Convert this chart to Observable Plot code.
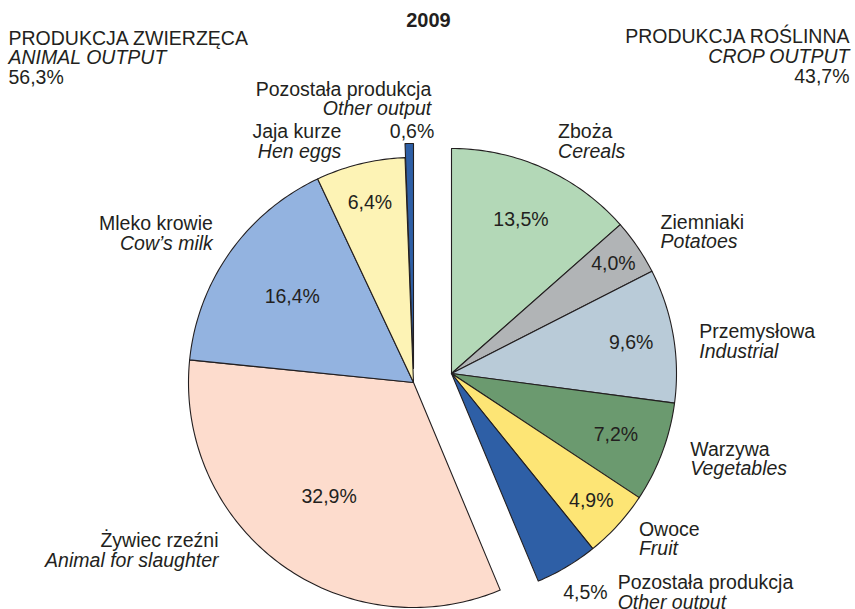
<!DOCTYPE html>
<html><head><meta charset="utf-8">
<script src="https://cdn.jsdelivr.net/npm/d3@7"></script>
<script src="https://cdn.jsdelivr.net/npm/@observablehq/plot@0.6"></script>
<style>body{margin:0;background:#fff}</style>
</head><body><div id="chart"></div>
<script>
// ---- data ----
const year = "2009";
const groups  = ["crop","crop","crop","crop","crop","crop","animal","animal","animal","animal"];
const namesPl = ["Zboża","Ziemniaki","Przemysłowa","Warzywa","Owoce","Pozostała produkcja","Żywiec rzeźni","Mleko krowie","Jaja kurze","Pozostała produkcja"];
const namesEn = ["Cereals","Potatoes","Industrial","Vegetables","Fruit","Other output","Animal for slaughter","Cow’s milk","Hen eggs","Other output"];
const shares  = [13.5, 4.0, 9.6, 7.2, 4.9, 4.5, 32.9, 16.4, 6.4, 0.6];
const groupTitlePl = {animal: "PRODUKCJA ZWIERZĘCA", crop: "PRODUKCJA ROŚLINNA"};
const groupTitleEn = {animal: "ANIMAL OUTPUT", crop: "CROP OUTPUT"};

// ---- layout / style ----
const colors = ["#b3d8b7","#b1b4b6","#b9cbd8","#6b9a6f","#fde575","#2e5fa6","#fddccd","#93b3e0","#fdf3b5","#2e5fa6"];
const R = 225;
const centers = {crop: [451, 373], animal: [413, 382]};
const extraY = [0,0,0,0,0,0,0,0,0,-14];
const pctR = [0.75,0.87,0.81,0.78,0.84,null,0.63,0.66,0.82,null];
// outside label offsets from arc midpoint: [dx, dyLine1, dyLine2, anchor]
const labOff = [
  [14,-30,-10,"start"],[23,-18,1,"start"],[26,2,22,"start"],[28,4,23,"start"],
  [21,11,30,"start"],[51,22,42,"start"],
  [-61,-16,4,"end"],[-17,-23,-3,"end"],[-19,-26,-6,"end"],[22,-48,-29,"end"]
];
const outPctOff = {5: [41, 32, "end"], 9: [25, -6, "end"]};
const ink = "#231f20";
const font = "'Liberation Sans', Arial, sans-serif";
const fs = 19.5;

const fmt = v => d3.format(".1f")(v).replace(".", ",") + "%";

let cum = 0;
const slices = shares.map((v, i) => {
  const a0 = cum / 100 * 2 * Math.PI; cum += v;
  const a1 = cum / 100 * 2 * Math.PI;
  const [cx, cy0] = centers[groups[i]];
  return {i, v, a0, a1, mid: (a0 + a1) / 2, cx, cy: cy0 + extraY[i]};
});
const pt = (s, a, r) => [s.cx + r * Math.sin(a), s.cy - r * Math.cos(a)];

const poly = [];
for (const s of slices) {
  poly.push({id: s.i, x: s.cx, y: s.cy});
  const n = Math.max(2, Math.ceil((s.a1 - s.a0) / (Math.PI / 180)));
  for (let k = 0; k <= n; k++) {
    const [x, y] = pt(s, s.a0 + (s.a1 - s.a0) * k / n, R);
    poly.push({id: s.i, x, y});
  }
  poly.push({id: s.i, x: s.cx, y: s.cy});
}

const pctIn = slices.filter(s => pctR[s.i] != null).map(s => {
  const [x, y] = pt(s, s.mid, R * pctR[s.i]);
  return {x, y, t: fmt(s.v)};
});
const pctOut = slices.filter(s => outPctOff[s.i]).map(s => {
  const [x, y] = pt(s, s.mid, R);
  const o = outPctOff[s.i];
  return {x: x + o[0], y: y + o[1], t: fmt(s.v), a: o[2]};
});
const lab1 = [], lab2 = [];
for (const s of slices) {
  const [x, y] = pt(s, s.mid, R);
  const o = labOff[s.i];
  lab1.push({x: x + o[0], y: y + o[1], t: namesPl[s.i], a: o[3]});
  lab2.push({x: x + o[0], y: y + o[2], t: namesEn[s.i], a: o[3]});
}
const sumOf = g => d3.sum(shares.filter((v, i) => groups[i] === g));
const heads = [
  {x: 8, y: 44, t: groupTitlePl.animal, a: "start", it: false},
  {x: 8, y: 63, t: groupTitleEn.animal, a: "start", it: true},
  {x: 8, y: 83, t: fmt(sumOf("animal")), a: "start", it: false},
  {x: 849, y: 42, t: groupTitlePl.crop, a: "end", it: false},
  {x: 849, y: 62, t: groupTitleEn.crop, a: "end", it: true},
  {x: 849, y: 82, t: fmt(sumOf("crop")), a: "end", it: false}
];

const textOpts = {fill: ink, fontSize: fs, fontFamily: font, lineAnchor: "bottom"};
const chart = Plot.plot({
  width: 855, height: 609,
  margin: 0,
  x: {type: "identity", axis: null},
  y: {type: "identity", axis: null},
  color: {type: "identity"},
  style: {fontFamily: font, background: "#fff"},
  marks: [
    Plot.line(poly, {x: "x", y: "y", z: "id", fill: d => colors[d.id], stroke: ink, strokeWidth: 1.1, strokeLinejoin: "round", curve: "linear"}),
    Plot.text(pctIn, {x: "x", y: "y", text: "t", fill: ink, fontSize: fs, fontFamily: font}),
    Plot.text(pctOut.filter(d => d.a === "end"), {x: "x", y: "y", text: "t", textAnchor: "end", ...textOpts}),
    Plot.text(lab1.filter(d => d.a === "start"), {x: "x", y: "y", text: "t", textAnchor: "start", ...textOpts}),
    Plot.text(lab1.filter(d => d.a === "end"), {x: "x", y: "y", text: "t", textAnchor: "end", ...textOpts}),
    Plot.text(lab2.filter(d => d.a === "start"), {x: "x", y: "y", text: "t", textAnchor: "start", fontStyle: "italic", ...textOpts}),
    Plot.text(lab2.filter(d => d.a === "end"), {x: "x", y: "y", text: "t", textAnchor: "end", fontStyle: "italic", ...textOpts}),
    Plot.text(heads.filter(d => d.a === "start" && !d.it), {x: "x", y: "y", text: "t", textAnchor: "start", ...textOpts}),
    Plot.text(heads.filter(d => d.a === "start" && d.it), {x: "x", y: "y", text: "t", textAnchor: "start", fontStyle: "italic", ...textOpts}),
    Plot.text(heads.filter(d => d.a === "end" && !d.it), {x: "x", y: "y", text: "t", textAnchor: "end", ...textOpts}),
    Plot.text(heads.filter(d => d.a === "end" && d.it), {x: "x", y: "y", text: "t", textAnchor: "end", fontStyle: "italic", ...textOpts}),
    Plot.text([year], {x: () => 428, y: () => 26, text: d => d, fontWeight: "bold", ...textOpts, fontSize: 20})
  ]
});
document.getElementById("chart").appendChild(chart);
</script>
</body></html>
